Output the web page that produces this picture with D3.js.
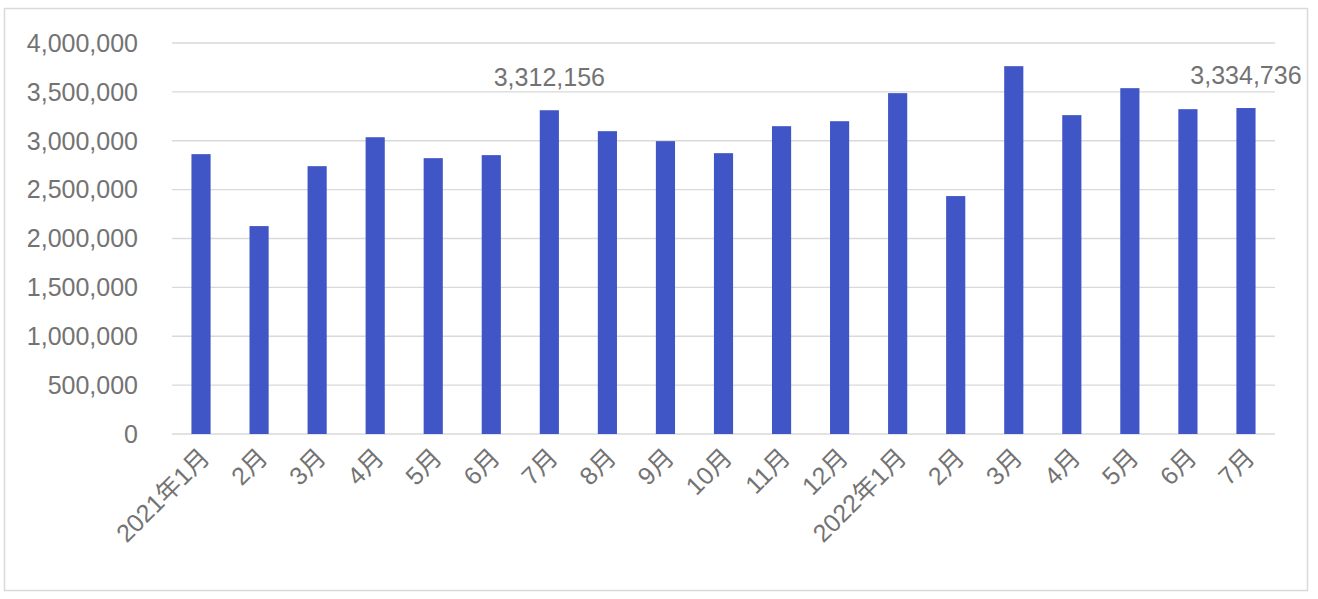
<!DOCTYPE html>
<html><head><meta charset="utf-8">
<script src="https://cdn.jsdelivr.net/npm/d3@7/dist/d3.min.js"></script>
<style>body{margin:0;background:#fff}svg{display:block}</style>
</head><body>
<script>
const categories = ["2021年1月","2月","3月","4月","5月","6月","7月","8月","9月","10月","11月","12月","2022年1月","2月","3月","4月","5月","6月","7月"];
const values = [2863000,2127000,2740000,3036000,2822000,2853000,3312156,3098000,2996000,2873000,3149000,3200000,3487000,2434000,3763000,3262000,3538000,3323000,3334736];
const labelled = [6, 18];
const yTicks = [0,500000,1000000,1500000,2000000,2500000,3000000,3500000,4000000];

const W = 1318, H = 599;
const svg = d3.select("body").append("svg").attr("width", W).attr("height", H);
const font = "'Liberation Sans', Arial, 'Noto Sans CJK SC', sans-serif";
const gray = "#737373";

svg.append("rect").attr("x",4.5).attr("y",8.5).attr("width",1303).attr("height",582)
  .attr("fill","#fff").attr("stroke","#d9d9d9").attr("stroke-width",1.5);

const x = d3.scaleBand().domain(d3.range(categories.length)).range([172,1275]).paddingInner(0.67).paddingOuter(0.335);
const y = d3.scaleLinear().domain([0,4000000]).range([434,43]);

const fmt = d3.format(",");
// grid
svg.append("g").selectAll("line").data(yTicks).join("line")
  .attr("x1",172).attr("x2",1275).attr("y1",d=>y(d)).attr("y2",d=>y(d))
  .attr("stroke","#d9d9d9").attr("stroke-width",1.3);

// y labels
svg.append("g").selectAll("text").data(yTicks).join("text")
  .attr("x",138).attr("y",d=>y(d)).attr("dy","0.35em").attr("text-anchor","end")
  .attr("font-family",font).attr("font-size",25).attr("fill",gray).text(d=>fmt(d));

// bars
svg.append("g").selectAll("rect").data(values).join("rect")
  .attr("x",(d,i)=>x(i)).attr("width",x.bandwidth())
  .attr("y",d=>y(d)).attr("height",d=>y(0)-y(d)).attr("fill","#4056c6");

// data labels
svg.append("g").selectAll("text").data(labelled).join("text")
  .attr("x",i=>x(i)+x.bandwidth()/2).attr("y",i=>y(values[i])-24)
  .attr("text-anchor","middle").attr("font-family",font).attr("font-size",25).attr("fill",gray)
  .text(i=>fmt(values[i]));

// x labels
svg.append("g").selectAll("text").data(categories).join("text")
  .attr("transform",(d,i)=>`translate(${x(i)+x.bandwidth()/2+4},453) rotate(-45)`)
  .attr("text-anchor","end").attr("dy","0.35em")
  .attr("font-family",font).attr("font-size",25).attr("fill",gray).text(d=>d);
</script>
</body></html>
